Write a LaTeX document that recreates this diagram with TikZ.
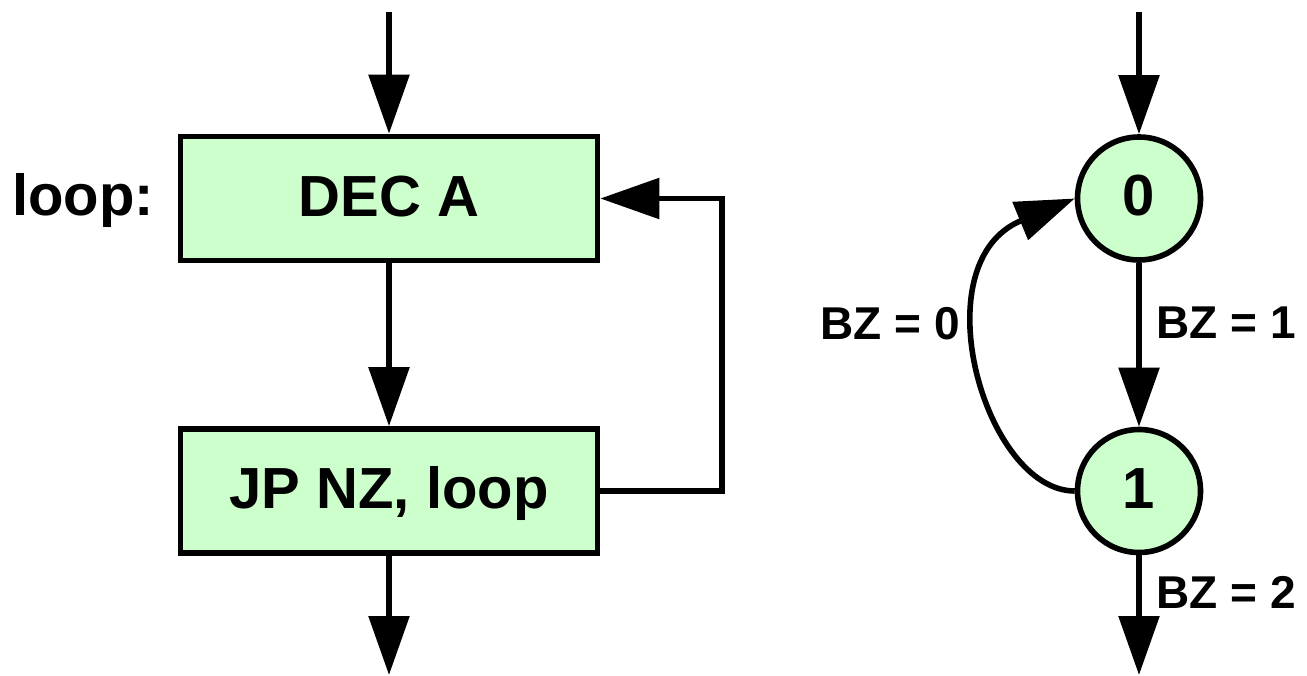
\documentclass[tikz,border=0pt]{standalone}
\usepackage{fontspec}
\setmainfont{Liberation Sans}
\usetikzlibrary{arrows.meta}
\definecolor{boxgreen}{RGB}{204,255,204}
\begin{document}
\begin{tikzpicture}[x=0.5pt,y=-0.5pt,
  conn/.style={line width=2.8pt,-{Triangle[length=29.5pt,width=20pt]}},
  stepbox/.style={draw,line width=2.8pt,fill=boxgreen,rectangle,minimum width=208.5pt,minimum height=62pt,inner sep=0pt,
    font=\fontsize{29}{34}\selectfont\bfseries,text height=20.5pt,text depth=3pt},
  state/.style={draw,line width=2.8pt,fill=boxgreen,circle,minimum size=61.5pt,inner sep=0pt,
    font=\fontsize{29}{34}\selectfont\bfseries,text height=20.5pt,text depth=3.5pt},
  lbl/.style={font=\fontsize{29}{34}\selectfont\bfseries,inner sep=0pt},
  cond/.style={font=\fontsize{23}{28}\selectfont\bfseries,inner sep=0pt}]
\useasboundingbox (0,0) rectangle (1307,675);
% left flowchart
\node[stepbox] (dec) at (389,198.5) {DEC A};
\node[stepbox] (jp) at (389,491) {JP NZ, loop};
\node[lbl,anchor=base] (looplbl) at (83,215) {loop:};
\coordinate (inL) at (389,12);
\coordinate (outL) at (389,675);
\draw[conn] (inL) -- (dec.north);
\draw[conn] (dec.south) -- (jp.north);
\draw[conn] (jp.south) -- (outL);
\draw[conn] (jp.east) -- (722,491) |- (dec.east);
% right state diagram
\node[state] (c0) at (1139,198.5) {0};
\node[state] (c1) at (1139,491) {1};
\coordinate (inR) at (1139,12);
\coordinate (outR) at (1139,675);
\draw[conn] (inR) -- (c0.north);
\draw[conn] (c0.south) -- (c1.north);
\draw[conn] (c1.south) -- (outR);
\draw[conn] (c1.west) .. controls +(-90,0) and +(-155,64) .. (c0.west);
\node[cond,anchor=base west] (bz0) at (820,339) {BZ = 0};
\node[cond,anchor=base west] (bz1) at (1156,338) {BZ = 1};
\node[cond,anchor=base west] (bz2) at (1156,608) {BZ = 2};
\end{tikzpicture}
\end{document}
